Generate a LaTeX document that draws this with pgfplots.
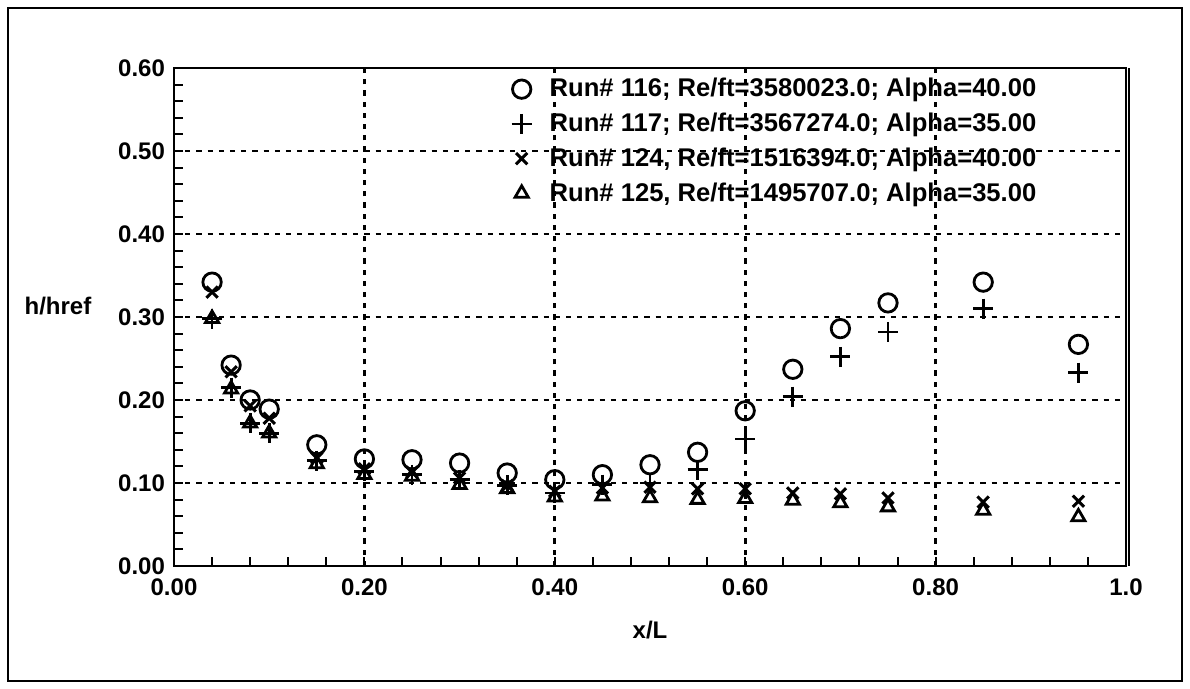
\documentclass[border=0pt]{standalone}
\usepackage{pgfplots}
\pgfplotsset{compat=1.18}
\usepackage{pgfplotstable}
\usepackage{fontspec}
\setmainfont{Liberation Sans}
\pgfplotstableread{
x     a     b     c     d
0.04  0.342 0.298 0.330 0.298
0.06  0.242 0.215 0.234 0.213
0.08  0.200 0.172 0.193 0.172
0.10  0.189 0.160 0.178 0.160
0.15  0.146 0.127 0.130 0.123
0.20  0.129 0.114 0.117 0.110
0.25  0.128 0.110 0.113 0.108
0.30  0.124 0.104 0.106 0.098
0.35  0.112 0.097 0.097 0.093
0.40  0.104 0.088 0.090 0.083
0.45  0.110 0.098 0.094 0.084
0.50  0.122 0.100 0.095 0.082
0.55  0.137 0.116 0.093 0.080
0.60  0.187 0.153 0.093 0.081
0.65  0.237 0.204 0.088 0.079
0.70  0.286 0.252 0.087 0.076
0.75  0.317 0.282 0.082 0.071
0.85  0.342 0.310 0.077 0.067
0.95  0.267 0.233 0.078 0.059
}\datatable
\begin{document}
\bfseries
\begin{tikzpicture}
\begin{axis}[
  scale only axis,
  width=476pt, height=249pt,
  xmin=0, xmax=1, ymin=0, ymax=0.6,
  xtick={0,0.2,0.4,0.6,0.8,1.0},
  xticklabels={0.00,0.20,0.40,0.60,0.80,1.0},
  ytick={0,0.1,0.2,0.3,0.4,0.5,0.6},
  yticklabels={0.00,0.10,0.20,0.30,0.40,0.50,0.60},
  minor x tick num=4, minor y tick num=4,
  tick pos=left, tick align=inside,
  major tick length=4.5pt, minor tick length=4.5pt,
  every tick/.style={black, line width=1pt},
  grid=major,
  major grid style={black, line width=1.4pt, dash pattern=on 2.6pt off 3pt},
  axis line style={line width=1.2pt},
  ticklabel style={font=\bfseries\fontsize{12}{12}\selectfont},
  xticklabel style={yshift=-3pt},
  yticklabel style={xshift=-1pt},
  xlabel={x/L},
  ylabel={h/href},
  every axis x label/.style={at={(rel axis cs:0.5,0)}, yshift=-32pt, anchor=center, font=\bfseries\fontsize{12}{12}\selectfont},
  every axis y label/.style={at={(rel axis cs:0,0.522)}, xshift=-58pt, anchor=center, font=\bfseries\fontsize{12}{12}\selectfont},
  legend style={at={(rel axis cs:0.348,0.996)}, anchor=north west, draw=none, fill=none,
    font=\bfseries\fontsize{12.8}{12.8}\selectfont, row sep=2.6pt,
    /tikz/every odd column/.append style={column sep=7pt}},
  legend cell align=left,
  clip=false,
]
\addplot[only marks, mark=o, mark size=4.6pt, mark options={line width=1.4pt}] table[x=x,y=a] {\datatable};
\addlegendentry{Run\# 116; Re/ft=3580023.0; Alpha=40.00}
\addplot[only marks, mark=+, mark size=5pt, mark options={line width=1.4pt}] table[x=x,y=b] {\datatable};
\addlegendentry{Run\# 117; Re/ft=3567274.0; Alpha=35.00}
\addplot[only marks, mark=x, mark size=4pt, mark options={line width=1.5pt}] table[x=x,y=c] {\datatable};
\addlegendentry{Run\# 124, Re/ft=1516394.0; Alpha=40.00}
\addplot[only marks, mark=triangle, mark size=3.8pt, mark options={line width=1.4pt}] table[x=x,y=d] {\datatable};
\addlegendentry{Run\# 125, Re/ft=1495707.0; Alpha=35.00}
\draw[line width=1.2pt] ([xshift=1.6pt]rel axis cs:1,0) -- ([xshift=1.6pt]rel axis cs:1,1);
\draw[line width=1pt] ([xshift=-83pt,yshift=-57.5pt]rel axis cs:0,0) rectangle ([xshift=28pt,yshift=30pt]rel axis cs:1,1);
\path ([xshift=-87pt,yshift=-61.5pt]rel axis cs:0,0) rectangle ([xshift=32pt,yshift=34pt]rel axis cs:1,1);
\end{axis}
\end{tikzpicture}
\end{document}
